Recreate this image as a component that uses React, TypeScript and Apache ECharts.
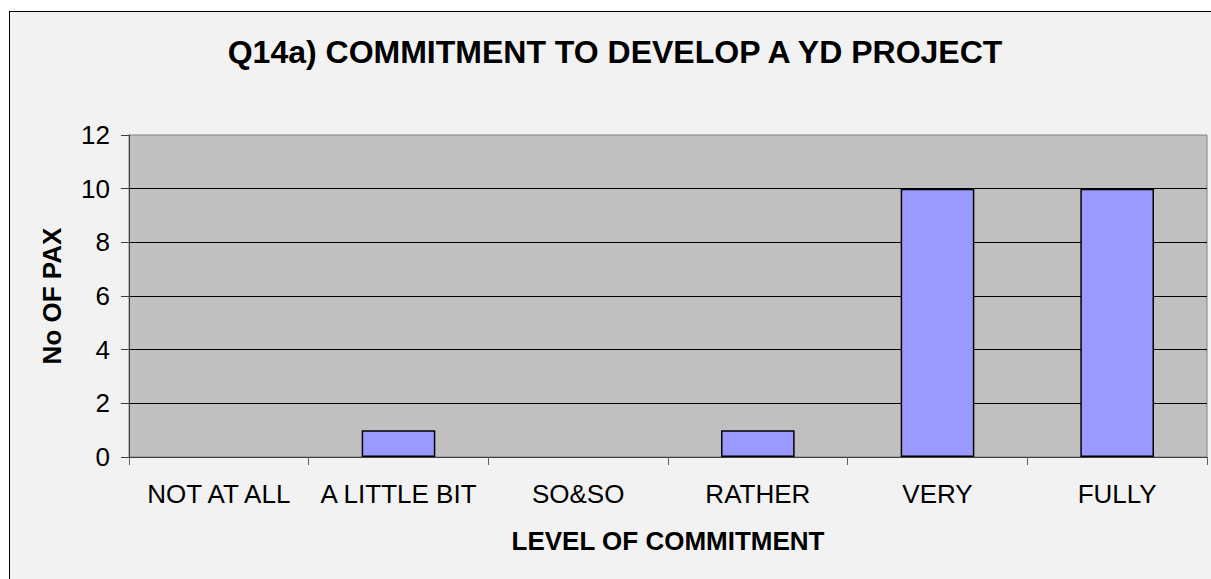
import React, { useEffect, useRef } from "react";
import * as echarts from "echarts";

const categories = ["NOT AT ALL", "A LITTLE BIT", "SO&SO", "RATHER", "VERY", "FULLY"];
const values = [0, 1, 0, 1, 10, 10];
const titleText = "Q14a) COMMITMENT TO DEVELOP A YD PROJECT";
const xName = "LEVEL OF COMMITMENT";
const yName = "No OF PAX";

const FONT = "'Liberation Sans', Arial, sans-serif";

export default function App() {
  const ref = useRef<HTMLDivElement>(null);
  useEffect(() => {
    if (!ref.current) return;
    const chart = echarts.init(ref.current, null, { renderer: "svg" });
    chart.setOption({
      animation: false,
      textStyle: { fontFamily: FONT },
      graphic: [
        {
          type: "text",
          x: 615,
          y: 52,
          style: {
            text: titleText,
            font: `bold 32px ${FONT}`,
            fill: "#000",
            textAlign: "center",
            textVerticalAlign: "middle",
          },
        },
      ],
      grid: {
        left: 129,
        top: 135,
        right: 4,
        bottom: 122,
        show: true,
        backgroundColor: "#C0C0C0",
        borderColor: "#808080",
        borderWidth: 1,
      },
      xAxis: {
        type: "category",
        data: categories,
        name: xName,
        nameLocation: "middle",
        nameGap: 71,
        nameTextStyle: { fontFamily: FONT, fontSize: 26, fontWeight: "bold", color: "#000" },
        axisLine: { show: true, lineStyle: { color: "#404040", width: 1 } },
        axisTick: { show: true, length: 8, lineStyle: { color: "#606060" } },
        axisLabel: { fontFamily: FONT, fontSize: 26, color: "#000", margin: 24, interval: 0 },
        splitLine: { show: false },
      },
      yAxis: {
        type: "value",
        min: 0,
        max: 12,
        interval: 2,
        name: yName,
        nameLocation: "middle",
        nameGap: 64,
        nameRotate: 90,
        nameTextStyle: { fontFamily: FONT, fontSize: 26, fontWeight: "bold", color: "#000" },
        axisLine: { show: true, lineStyle: { color: "#404040", width: 1 } },
        axisTick: { show: true, length: 8, lineStyle: { color: "#404040" } },
        axisLabel: { fontFamily: FONT, fontSize: 26, color: "#000", margin: 19 },
        splitLine: { show: true, showMinLine: false, showMaxLine: false, lineStyle: { color: "#000", width: 1 } },
      },
      series: [
        {
          type: "bar",
          data: values.map((v) => (v === 0 ? "-" : v)),
          barWidth: "41%",
          itemStyle: { color: "#9999FF", borderColor: "#000", borderWidth: 1.5 },
        },
      ],
    });
    return () => chart.dispose();
  }, []);

  return (
    <div style={{ position: "fixed", left: 0, top: 0, width: 1211, height: 579, background: "#fff", overflow: "hidden" }}>
      <div
        style={{
          position: "absolute",
          left: 9,
          top: 11,
          width: 1300,
          height: 700,
          border: "1px solid #000",
          background: "#F2F2F2",
        }}
      />
      <div ref={ref} style={{ position: "absolute", left: 0, top: 0, width: 1211, height: 579 }} />
    </div>
  );
}
